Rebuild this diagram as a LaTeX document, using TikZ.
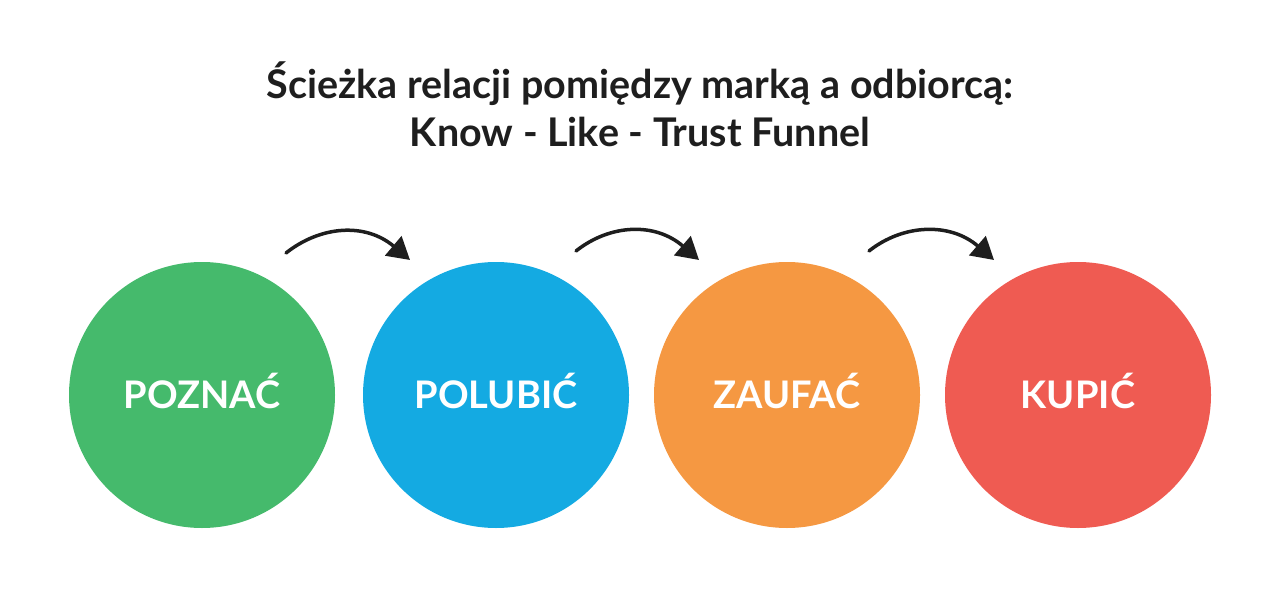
\documentclass[tikz,border=0pt]{standalone}
\usepackage{fontspec}
\setmainfont{Lato}
\usetikzlibrary{arrows.meta}
\definecolor{cgreen}{RGB}{69,186,108}
\definecolor{cblue}{RGB}{20,170,226}
\definecolor{corange}{RGB}{245,152,66}
\definecolor{cred}{RGB}{239,91,82}
\definecolor{ctext}{RGB}{30,30,30}
\tikzset{
  bubble/.style={circle, minimum size=266pt, inner sep=0pt, fill=#1},
  bubbletext/.style={text=white, font=\fontsize{38}{44}\selectfont\bfseries},
  sketch/.style={line width=3.5pt, line cap=round, ctext, -{Triangle[width=25pt,length=22pt]}},
  titletext/.style={align=center, text=ctext, font=\fontsize{39.5}{48}\selectfont\bfseries}
}
\begin{document}
\begin{tikzpicture}[x=1pt,y=-1pt]
\useasboundingbox (0,0) rectangle (1280,615);
\node[titletext] (title) at (640,104) {Ścieżka relacji pomiędzy marką a odbiorcą:\\Know - Like - Trust Funnel};
\node[bubble=cgreen] (c1) at (202,395) {};
\node[bubble=cblue] (c2) at (496,395) {};
\node[bubble=corange] (c3) at (787,395) {};
\node[bubble=cred] (c4) at (1078,395) {};
\node[bubbletext] (t1) at ([yshift=4pt]c1.center) {POZNAĆ};
\node[bubbletext] (t2) at ([yshift=4pt]c2.center) {POLUBIĆ};
\node[bubbletext] (t3) at ([yshift=4pt]c3.center) {ZAUFAĆ};
\node[bubbletext] (t4) at ([yshift=4pt]c4.center) {KUPIĆ};
\coordinate (a1s) at (286,253); \coordinate (a1e) at (410,260);
\coordinate (a2s) at (576,251); \coordinate (a2e) at (699,260);
\coordinate (a3s) at (869,251); \coordinate (a3e) at (994,260);
\draw[sketch] (a1s) .. controls (320,226) and (365,222) .. (a1e);
\draw[sketch] (a2s) .. controls (610,224) and (655,222) .. (a2e);
\draw[sketch] (a3s) .. controls (903,224) and (950,222) .. (a3e);
\end{tikzpicture}
\end{document}
